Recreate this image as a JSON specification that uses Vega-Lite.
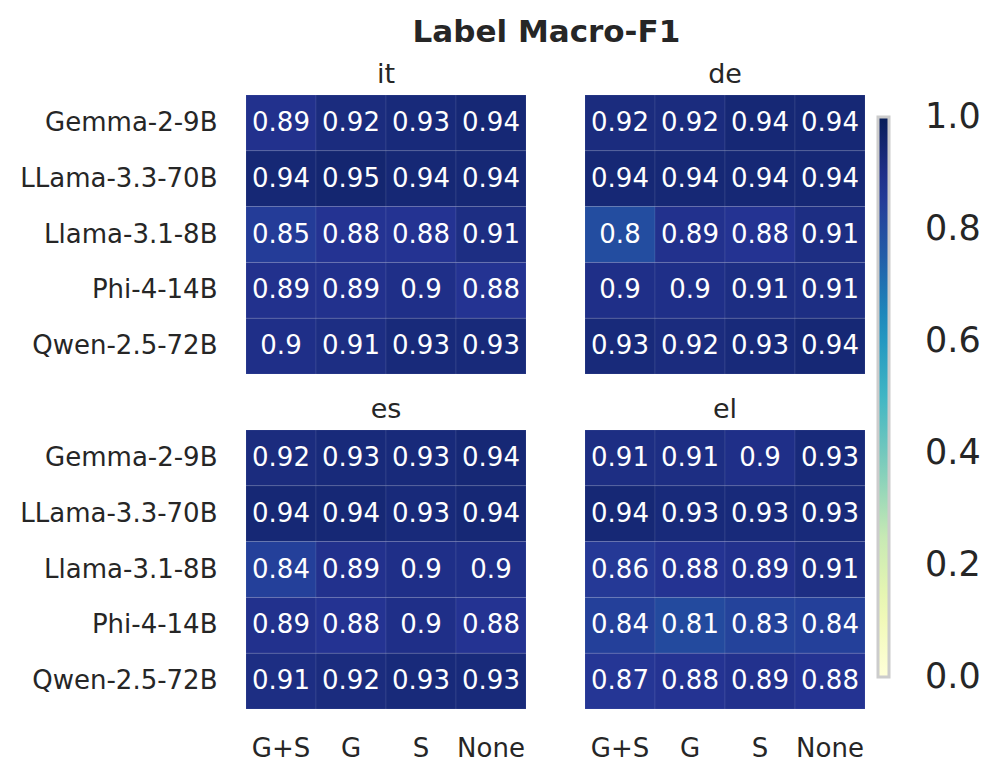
{
  "$schema": "https://vega.github.io/schema/vega-lite/v6.json",
  "padding": {"left": 19, "top": 16, "right": 5, "bottom": 5},
  "background": "white",
  "title": {"text": "Label Macro-F1", "fontSize": 31, "fontWeight": "bold", "color": "#262626", "anchor": "middle", "offset": 12, "dx": 46},
  "config": {
    "font": "DejaVu Sans",
    "view": {"stroke": null},
    "axis": {"domain": false, "ticks": false, "labelColor": "#262626", "labelFontSize": 26, "title": null, "grid": false, "labelLimit": 400},
    "header": {"labelFontSize": 27, "labelColor": "#262626", "title": null, "labelPadding": 6},
    "facet": {"spacing": {"column": 57, "row": 20}}
  },
  "data": {"values": [
    {"lang": "it", "model": "Gemma-2-9B", "setting": "G+S", "value": 0.89},
    {"lang": "it", "model": "Gemma-2-9B", "setting": "G", "value": 0.92},
    {"lang": "it", "model": "Gemma-2-9B", "setting": "S", "value": 0.93},
    {"lang": "it", "model": "Gemma-2-9B", "setting": "None", "value": 0.94},
    {"lang": "it", "model": "LLama-3.3-70B", "setting": "G+S", "value": 0.94},
    {"lang": "it", "model": "LLama-3.3-70B", "setting": "G", "value": 0.95},
    {"lang": "it", "model": "LLama-3.3-70B", "setting": "S", "value": 0.94},
    {"lang": "it", "model": "LLama-3.3-70B", "setting": "None", "value": 0.94},
    {"lang": "it", "model": "Llama-3.1-8B", "setting": "G+S", "value": 0.85},
    {"lang": "it", "model": "Llama-3.1-8B", "setting": "G", "value": 0.88},
    {"lang": "it", "model": "Llama-3.1-8B", "setting": "S", "value": 0.88},
    {"lang": "it", "model": "Llama-3.1-8B", "setting": "None", "value": 0.91},
    {"lang": "it", "model": "Phi-4-14B", "setting": "G+S", "value": 0.89},
    {"lang": "it", "model": "Phi-4-14B", "setting": "G", "value": 0.89},
    {"lang": "it", "model": "Phi-4-14B", "setting": "S", "value": 0.9},
    {"lang": "it", "model": "Phi-4-14B", "setting": "None", "value": 0.88},
    {"lang": "it", "model": "Qwen-2.5-72B", "setting": "G+S", "value": 0.9},
    {"lang": "it", "model": "Qwen-2.5-72B", "setting": "G", "value": 0.91},
    {"lang": "it", "model": "Qwen-2.5-72B", "setting": "S", "value": 0.93},
    {"lang": "it", "model": "Qwen-2.5-72B", "setting": "None", "value": 0.93},
    {"lang": "de", "model": "Gemma-2-9B", "setting": "G+S", "value": 0.92},
    {"lang": "de", "model": "Gemma-2-9B", "setting": "G", "value": 0.92},
    {"lang": "de", "model": "Gemma-2-9B", "setting": "S", "value": 0.94},
    {"lang": "de", "model": "Gemma-2-9B", "setting": "None", "value": 0.94},
    {"lang": "de", "model": "LLama-3.3-70B", "setting": "G+S", "value": 0.94},
    {"lang": "de", "model": "LLama-3.3-70B", "setting": "G", "value": 0.94},
    {"lang": "de", "model": "LLama-3.3-70B", "setting": "S", "value": 0.94},
    {"lang": "de", "model": "LLama-3.3-70B", "setting": "None", "value": 0.94},
    {"lang": "de", "model": "Llama-3.1-8B", "setting": "G+S", "value": 0.8},
    {"lang": "de", "model": "Llama-3.1-8B", "setting": "G", "value": 0.89},
    {"lang": "de", "model": "Llama-3.1-8B", "setting": "S", "value": 0.88},
    {"lang": "de", "model": "Llama-3.1-8B", "setting": "None", "value": 0.91},
    {"lang": "de", "model": "Phi-4-14B", "setting": "G+S", "value": 0.9},
    {"lang": "de", "model": "Phi-4-14B", "setting": "G", "value": 0.9},
    {"lang": "de", "model": "Phi-4-14B", "setting": "S", "value": 0.91},
    {"lang": "de", "model": "Phi-4-14B", "setting": "None", "value": 0.91},
    {"lang": "de", "model": "Qwen-2.5-72B", "setting": "G+S", "value": 0.93},
    {"lang": "de", "model": "Qwen-2.5-72B", "setting": "G", "value": 0.92},
    {"lang": "de", "model": "Qwen-2.5-72B", "setting": "S", "value": 0.93},
    {"lang": "de", "model": "Qwen-2.5-72B", "setting": "None", "value": 0.94},
    {"lang": "es", "model": "Gemma-2-9B", "setting": "G+S", "value": 0.92},
    {"lang": "es", "model": "Gemma-2-9B", "setting": "G", "value": 0.93},
    {"lang": "es", "model": "Gemma-2-9B", "setting": "S", "value": 0.93},
    {"lang": "es", "model": "Gemma-2-9B", "setting": "None", "value": 0.94},
    {"lang": "es", "model": "LLama-3.3-70B", "setting": "G+S", "value": 0.94},
    {"lang": "es", "model": "LLama-3.3-70B", "setting": "G", "value": 0.94},
    {"lang": "es", "model": "LLama-3.3-70B", "setting": "S", "value": 0.93},
    {"lang": "es", "model": "LLama-3.3-70B", "setting": "None", "value": 0.94},
    {"lang": "es", "model": "Llama-3.1-8B", "setting": "G+S", "value": 0.84},
    {"lang": "es", "model": "Llama-3.1-8B", "setting": "G", "value": 0.89},
    {"lang": "es", "model": "Llama-3.1-8B", "setting": "S", "value": 0.9},
    {"lang": "es", "model": "Llama-3.1-8B", "setting": "None", "value": 0.9},
    {"lang": "es", "model": "Phi-4-14B", "setting": "G+S", "value": 0.89},
    {"lang": "es", "model": "Phi-4-14B", "setting": "G", "value": 0.88},
    {"lang": "es", "model": "Phi-4-14B", "setting": "S", "value": 0.9},
    {"lang": "es", "model": "Phi-4-14B", "setting": "None", "value": 0.88},
    {"lang": "es", "model": "Qwen-2.5-72B", "setting": "G+S", "value": 0.91},
    {"lang": "es", "model": "Qwen-2.5-72B", "setting": "G", "value": 0.92},
    {"lang": "es", "model": "Qwen-2.5-72B", "setting": "S", "value": 0.93},
    {"lang": "es", "model": "Qwen-2.5-72B", "setting": "None", "value": 0.93},
    {"lang": "el", "model": "Gemma-2-9B", "setting": "G+S", "value": 0.91},
    {"lang": "el", "model": "Gemma-2-9B", "setting": "G", "value": 0.91},
    {"lang": "el", "model": "Gemma-2-9B", "setting": "S", "value": 0.9},
    {"lang": "el", "model": "Gemma-2-9B", "setting": "None", "value": 0.93},
    {"lang": "el", "model": "LLama-3.3-70B", "setting": "G+S", "value": 0.94},
    {"lang": "el", "model": "LLama-3.3-70B", "setting": "G", "value": 0.93},
    {"lang": "el", "model": "LLama-3.3-70B", "setting": "S", "value": 0.93},
    {"lang": "el", "model": "LLama-3.3-70B", "setting": "None", "value": 0.93},
    {"lang": "el", "model": "Llama-3.1-8B", "setting": "G+S", "value": 0.86},
    {"lang": "el", "model": "Llama-3.1-8B", "setting": "G", "value": 0.88},
    {"lang": "el", "model": "Llama-3.1-8B", "setting": "S", "value": 0.89},
    {"lang": "el", "model": "Llama-3.1-8B", "setting": "None", "value": 0.91},
    {"lang": "el", "model": "Phi-4-14B", "setting": "G+S", "value": 0.84},
    {"lang": "el", "model": "Phi-4-14B", "setting": "G", "value": 0.81},
    {"lang": "el", "model": "Phi-4-14B", "setting": "S", "value": 0.83},
    {"lang": "el", "model": "Phi-4-14B", "setting": "None", "value": 0.84},
    {"lang": "el", "model": "Qwen-2.5-72B", "setting": "G+S", "value": 0.87},
    {"lang": "el", "model": "Qwen-2.5-72B", "setting": "G", "value": 0.88},
    {"lang": "el", "model": "Qwen-2.5-72B", "setting": "S", "value": 0.89},
    {"lang": "el", "model": "Qwen-2.5-72B", "setting": "None", "value": 0.88}
  ]},
  "facet": {"field": "lang", "type": "nominal", "sort": ["it", "de", "es", "el"], "header": {"title": null}},
  "columns": 2,
  "spec": {
    "width": 280,
    "height": 279,
    "encoding": {
      "x": {"field": "setting", "type": "nominal", "sort": ["G+S", "G", "S", "None"], "scale": {"paddingInner": 0, "paddingOuter": 0}, "axis": {"labelAngle": 0, "labelPadding": 25}},
      "y": {"field": "model", "type": "nominal", "sort": ["Gemma-2-9B", "LLama-3.3-70B", "Llama-3.1-8B", "Phi-4-14B", "Qwen-2.5-72B"], "scale": {"paddingInner": 0, "paddingOuter": 0}, "axis": {"labelPadding": 28}}
    },
    "layer": [
      {
        "mark": {"type": "rect", "stroke": "#ffffff", "strokeOpacity": 0.08, "strokeWidth": 1},
        "encoding": {
          "color": {"field": "value", "type": "quantitative",
            "scale": {"domain": [0, 0.125, 0.25, 0.375, 0.5, 0.625, 0.75, 0.875, 1], "range": ["#ffffd9", "#edf8b1", "#c7e9b4", "#7fcdbb", "#41b6c4", "#1d91c0", "#225ea8", "#253494", "#081d58"], "interpolate": "rgb"},
            "legend": {"title": null, "orient": "none", "legendX": 632, "legendY": 22, "gradientLength": 560, "gradientThickness": 11, "gradientStrokeColor": "#cccccc", "gradientStrokeWidth": 3, "labelFontSize": 35, "labelColor": "#262626", "labelOffset": 36, "labelBaseline": "middle", "values": [0, 0.2, 0.4, 0.6, 0.8, 1.0], "format": ".1f", "direction": "vertical",
              "encode": {"labels": {"update": {"baseline": {"value": "middle"}}}}}}
        }
      },
      {
        "mark": {"type": "text", "color": "white", "fontSize": 26},
        "encoding": {"text": {"field": "value", "type": "nominal"}}
      }
    ]
  }
}
